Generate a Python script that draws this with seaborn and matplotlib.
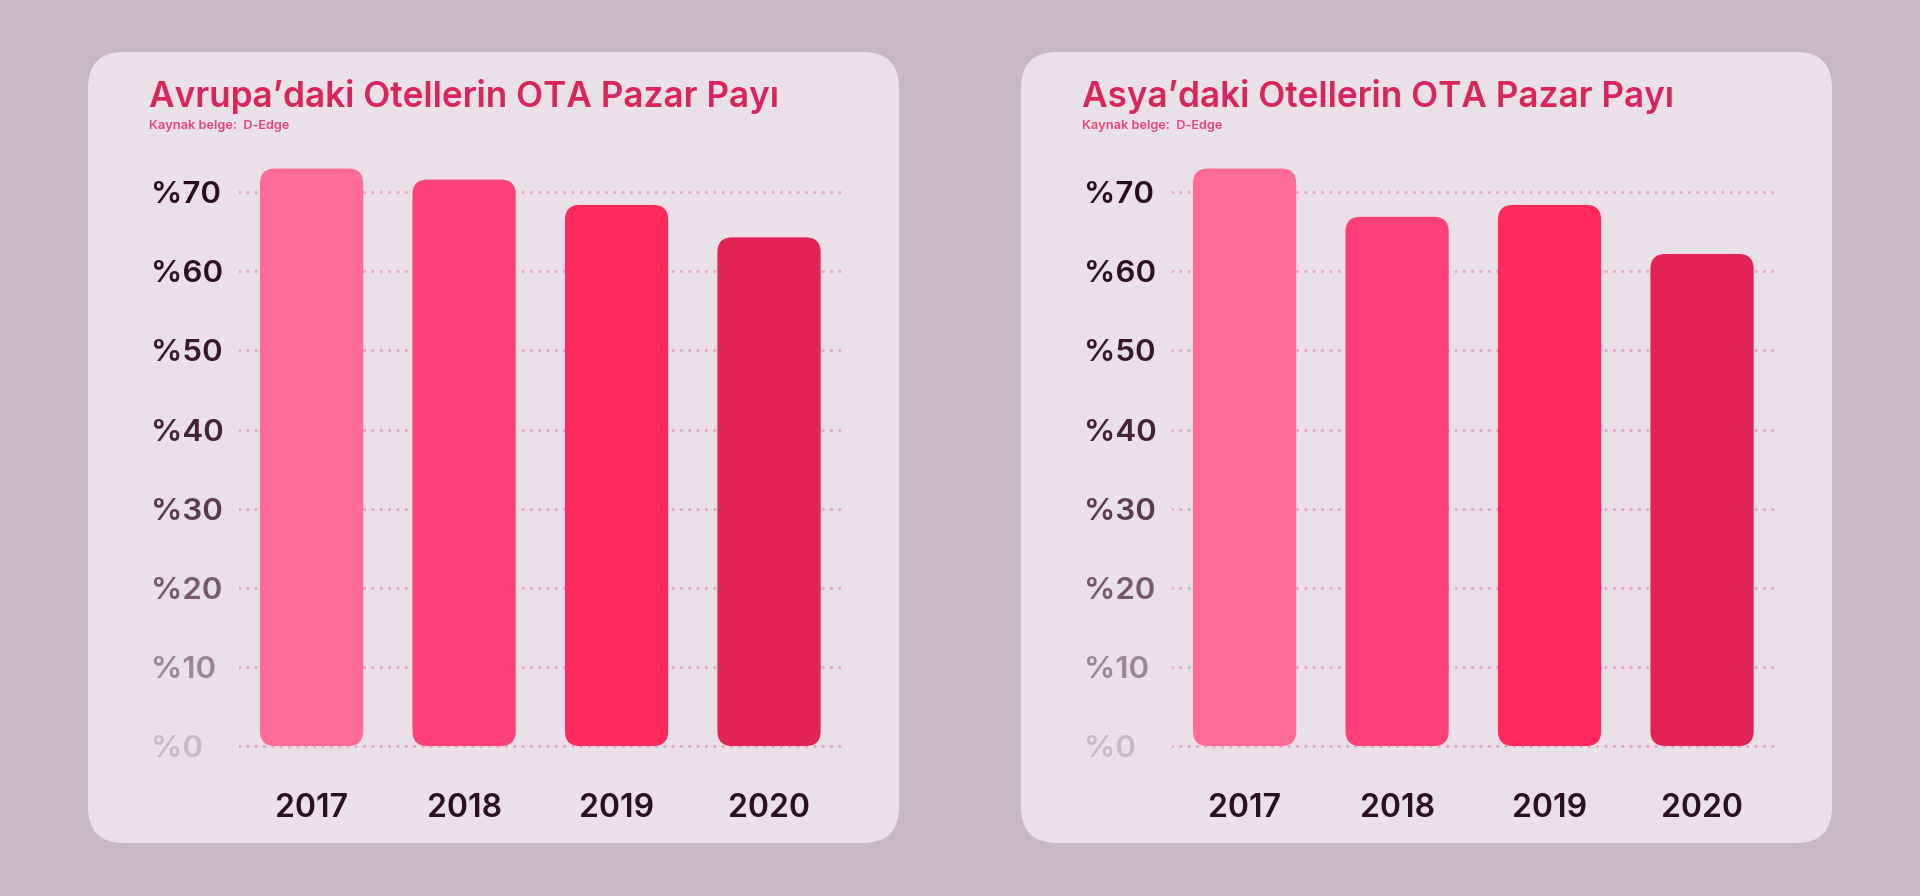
import matplotlib
matplotlib.use("Agg")
import matplotlib.pyplot as plt
from matplotlib.patches import FancyBboxPatch
import seaborn as sns

# ---- data ----
years = ["2017", "2018", "2019", "2020"]
europe_share = [73.0, 71.6, 68.4, 64.3]
asia_share = [73.0, 66.9, 68.4, 62.2]
tick_values = [0, 10, 20, 30, 40, 50, 60, 70]
tick_labels = ["%0", "%10", "%20", "%30", "%40", "%50", "%60", "%70"]
titles = ["Avrupa’daki Otellerin OTA Pazar Payı", "Asya’daki Otellerin OTA Pazar Payı"]
source = "Kaynak belge:  D-Edge"

bar_colors = ["#FF6B98", "#FF407A", "#FE2A5E", "#E22356"]
tick_colors = ["#C9B9C4", "#9C8695", "#77596B", "#5C3A4D", "#452234", "#3A1829", "#2E1020", "#2A0D1C"]
bg_color = "#C8B8C2"
card_color = "#E9E1E7"
title_color = "#D9255A"
source_color = "#E8457A"
grid_color = "#F0A3C4"
year_color = "#2B1020"

sns.set_theme(style="white")
plt.rcParams["font.family"] = ["Inter", "DejaVu Sans"]

W, H = 1920, 896
fig = plt.figure(figsize=(W / 100, H / 100), dpi=100)
fig.patch.set_facecolor(bg_color)

# background axes in pixel coordinates for the cards
bg = fig.add_axes([0, 0, 1, 1], zorder=-5)
bg.set_xlim(0, W)
bg.set_ylim(0, H)
bg.axis("off")
for cx in (88, 1021):
    card = FancyBboxPatch((cx, H - 843), 811, 791,
                          boxstyle="round,pad=0,rounding_size=36",
                          facecolor=card_color, edgecolor="none")
    bg.add_patch(card)

ylo, yhi = -1.5, 75
xlo = -0.476
xspan = 3.984
bar_w = 0.677
ax_left = [239 / W, 1172 / W]
ax_w = 0.3164
ax_b = (H - 757.9) / H
ax_h = (757.9 - 152.7) / H
title_x = [149, 1082]

for i, (vals, title) in enumerate(zip([europe_share, asia_share], titles)):
    ax = fig.add_axes([ax_left[i], ax_b, ax_w, ax_h])
    ax.set_facecolor("none")
    sns.barplot(x=years, y=vals, hue=years, palette=bar_colors, legend=False,
                width=bar_w, saturation=1, ax=ax, zorder=3)
    ax.set_xlim(xlo, xlo + xspan)
    ax.set_ylim(ylo, yhi)

    # rounded bars
    px_x = ax_w * W / xspan
    px_y = ax_h * H / (yhi - ylo)
    r_px = 15
    for p in list(ax.patches):
        x0, y0 = p.get_x(), p.get_y()
        w, h = p.get_width(), p.get_height()
        fc = p.get_facecolor()
        p.remove()
        rb = FancyBboxPatch((x0, y0), w, h,
                            boxstyle=f"round,pad=0,rounding_size={r_px / px_x}",
                            mutation_aspect=px_x / px_y,
                            facecolor=fc, edgecolor="none", zorder=3)
        ax.add_patch(rb)

    # dotted gridlines
    for tv in tick_values:
        ax.axhline(tv, color=grid_color, lw=2.3, linestyle=(0, (0.01, 2.6)),
                   dash_capstyle="round", zorder=1)

    ax.set_yticks(tick_values)
    ax.set_yticklabels(tick_labels, fontsize=22.5, fontweight="semibold", ha="left")
    for lab, c in zip(ax.get_yticklabels(), tick_colors):
        lab.set_color(c)
    ax.tick_params(axis="y", length=0, pad=63.4)
    ax.tick_params(axis="x", length=0, pad=25.5, labelsize=23, labelcolor=year_color)
    for lab in ax.get_xticklabels():
        lab.set_fontweight("semibold")
    ax.set_xlabel("")
    ax.set_ylabel("")
    for s in ax.spines.values():
        s.set_visible(False)

    fig.text(title_x[i] / W, (H - 96) / H, title, fontsize=25.3, fontweight="semibold",
             color=title_color, ha="left", va="center")
    fig.text(title_x[i] / W, (H - 126) / H, source, fontsize=9.2, fontweight="semibold",
             color=source_color, ha="left", va="center")

fig.savefig("out.png", dpi=100, facecolor=bg_color)
